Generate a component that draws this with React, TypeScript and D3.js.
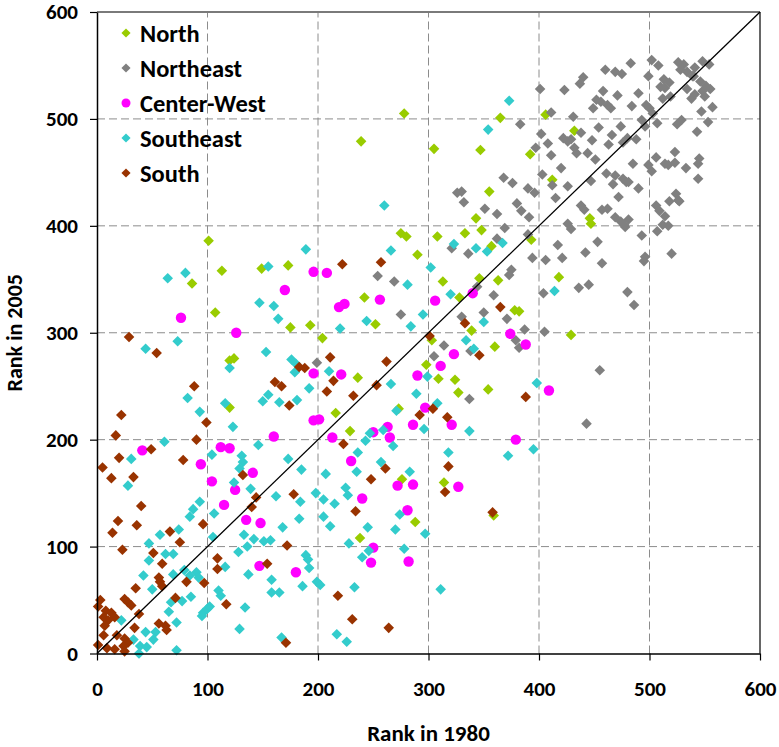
import React, { useEffect, useRef } from "react";
import * as d3 from "d3";

type Pt = [number, number];

// values (rank 1980, rank 2005)
const north: Pt[] = [
  [278, 505], [365, 501], [239, 479], [305, 472], [347, 471], [392, 467], [355, 432], [343, 407],
  [406, 504], [432, 489], [412, 443], [446, 407], [447, 402],
  [101, 386], [86, 346], [113, 358], [149, 360], [173, 363], [107, 319], [175, 305], [193, 307],
  [120, 274], [124, 276], [120, 230], [204, 295],
  [275, 393], [280, 390], [308, 390], [333, 393], [348, 396], [357, 381], [393, 387], [290, 373],
  [313, 348], [346, 351], [363, 349], [328, 333], [242, 333], [252, 308], [339, 302], [378, 321],
  [382, 320], [303, 293], [360, 287], [236, 258], [298, 270], [309, 257], [324, 256], [327, 244],
  [354, 247], [273, 229], [216, 225], [229, 208],
  [418, 352], [429, 298],
  [276, 163], [314, 160], [359, 129], [288, 123], [238, 108],
];

const northeast: Pt[] = [
  [383, 495], [397, 473], [368, 445], [376, 440], [326, 431], [330, 432], [332, 422], [390, 435],
  [396, 431], [351, 416], [362, 411], [380, 421], [384, 414], [391, 408],
  [483, 552], [502, 555], [508, 550], [526, 553], [531, 551], [528, 546], [534, 544], [540, 540],
  [548, 554], [554, 551], [541, 548], [539, 540], [460, 546], [469, 544], [475, 542], [440, 539],
  [437, 533], [401, 528], [423, 527], [499, 540], [513, 537], [518, 534], [510, 530], [514, 529],
  [546, 535], [551, 531], [548, 526], [555, 528], [534, 528], [541, 523], [538, 519], [458, 526],
  [471, 522], [490, 524], [452, 518], [456, 516], [462, 513], [465, 510], [449, 510], [484, 512],
  [497, 513], [500, 510], [503, 505], [519, 521], [512, 519], [550, 521], [557, 511], [547, 507],
  [411, 506], [431, 502], [493, 499], [496, 493], [507, 496], [525, 495], [529, 499], [553, 497],
  [543, 488], [454, 492], [474, 493], [438, 487], [402, 486], [466, 485], [422, 482], [426, 479],
  [429, 481], [448, 480], [476, 478], [480, 482], [488, 481], [408, 477], [411, 466], [432, 473],
  [434, 468], [444, 468], [451, 462], [463, 476], [485, 458], [499, 457], [502, 451], [506, 464],
  [514, 458], [517, 457], [523, 469], [523, 459], [533, 454], [545, 463], [544, 458], [420, 454],
  [403, 448], [412, 438], [426, 437], [447, 442], [461, 449], [469, 447], [476, 444], [479, 441],
  [467, 439], [481, 441], [490, 435], [544, 444], [415, 426], [438, 419], [441, 415], [457, 415],
  [462, 416], [472, 427], [469, 408], [474, 404], [481, 406], [477, 401], [426, 402], [506, 419],
  [509, 414], [514, 409], [518, 423], [526, 424], [524, 430], [527, 423], [512, 401],
  [369, 398], [362, 388], [321, 379], [336, 374], [390, 392], [394, 370], [375, 359], [373, 354],
  [254, 353], [269, 348], [344, 343], [359, 335], [275, 317], [330, 315], [350, 319], [371, 313],
  [387, 303], [379, 293], [382, 286], [314, 288], [338, 283], [305, 278], [199, 272], [337, 238],
  [429, 397], [478, 399], [493, 391], [507, 395], [517, 400], [520, 374], [496, 371], [495, 367],
  [457, 365], [453, 385], [442, 375], [421, 370], [417, 382], [406, 368], [404, 337], [436, 342],
  [445, 345], [480, 338], [486, 326], [405, 301], [455, 265], [443, 215],
];

const centerWest: Pt[] = [
  [196, 357], [170, 340], [76, 314], [126, 300], [196, 262], [160, 203], [196, 218], [201, 219],
  [208, 356], [256, 331], [224, 327], [219, 324], [340, 337], [306, 330], [374, 299], [388, 289],
  [323, 280], [221, 261], [311, 269], [290, 260], [297, 230], [286, 214], [321, 214], [250, 207],
  [263, 212], [265, 202], [213, 202], [379, 200], [409, 246],
  [41, 190], [112, 193], [120, 192], [94, 177], [141, 169], [104, 161], [125, 153], [115, 139],
  [135, 125], [148, 122], [147, 82], [180, 76],
  [230, 180], [272, 157], [286, 158], [327, 156], [240, 145], [281, 134], [250, 99], [248, 85], [282, 86],
];

const southeast: Pt[] = [
  [373, 517], [354, 490], [260, 419],
  [64, 351], [80, 356], [155, 362], [189, 378], [147, 328], [160, 325], [164, 313], [44, 285],
  [73, 292], [120, 267], [153, 282], [176, 275], [180, 271], [179, 263], [155, 242], [150, 236],
  [165, 235], [181, 237], [192, 248], [82, 239], [93, 226], [116, 234], [123, 212],
  [367, 384], [323, 383], [343, 379], [353, 376], [266, 377], [302, 361], [281, 345], [320, 336],
  [244, 311], [284, 306], [295, 317], [220, 304], [350, 310], [334, 293], [341, 285], [210, 264],
  [299, 259], [266, 252], [398, 253], [289, 243], [308, 234], [271, 227], [247, 206], [259, 209],
  [296, 210], [337, 208], [414, 339],
  [61, 198], [31, 182], [28, 157], [146, 195], [104, 186], [131, 185], [132, 179], [129, 173],
  [124, 160], [139, 154], [173, 182], [185, 172], [162, 147], [184, 142], [198, 150], [93, 142],
  [87, 135], [106, 131], [84, 128], [183, 126], [168, 118], [57, 111], [74, 116], [105, 109],
  [133, 111], [142, 107], [151, 105], [157, 106], [47, 103], [136, 100], [128, 95], [62, 93],
  [69, 93], [47, 87], [116, 81], [189, 92], [191, 88], [192, 80], [199, 67], [186, 63],
  [137, 74], [158, 69], [158, 57], [165, 57], [42, 73], [69, 74], [50, 60], [79, 78],
  [84, 73], [90, 76], [92, 71], [110, 59], [112, 54], [134, 43], [129, 23], [167, 15],
  [22, 31], [33, 13], [39, 7], [38, 0], [45, 6], [44, 20], [53, 20], [51, 13],
  [72, 29], [65, 39], [67, 48], [77, 49], [85, 53], [96, 38], [100, 42], [102, 44], [95, 35], [72, 3],
  [395, 191], [243, 199], [268, 194], [236, 188], [257, 179], [283, 170], [235, 170], [207, 168],
  [225, 155], [227, 148], [205, 144], [215, 140], [318, 188], [372, 185], [205, 128], [211, 119],
  [274, 130], [270, 116], [245, 118], [228, 103], [297, 112], [246, 96], [240, 90], [278, 98],
  [202, 64], [233, 62], [217, 18], [226, 11], [311, 60],
];

const south: Pt[] = [
  [29, 296], [54, 281], [183, 268], [188, 267], [161, 254], [167, 250], [174, 232], [88, 250],
  [99, 216], [22, 223], [17, 204], [90, 200],
  [222, 364], [257, 366], [365, 324], [333, 309], [301, 297], [346, 279], [211, 277], [262, 273],
  [214, 255], [253, 251], [208, 245], [232, 241], [388, 240], [304, 229], [292, 223], [317, 221],
  [49, 191], [20, 183], [78, 181], [5, 174], [13, 164], [33, 165], [132, 167], [40, 138],
  [144, 146], [140, 137], [178, 149], [19, 124], [36, 120], [96, 121], [14, 113], [66, 114],
  [75, 104], [172, 101], [23, 97], [51, 94], [109, 89], [109, 79], [59, 84], [154, 84],
  [56, 71], [57, 67], [59, 63], [81, 67], [97, 66], [35, 61], [117, 46], [171, 10],
  [3, 50], [1, 44], [8, 40], [13, 38], [16, 34], [6, 34], [10, 31], [7, 26],
  [25, 51], [28, 48], [31, 45], [38, 37], [34, 24], [6, 17], [18, 17], [25, 14],
  [28, 10], [24, 7], [1, 8], [9, 5], [16, 4], [25, 2], [56, 28], [62, 26], [63, 22], [71, 52],
  [223, 196], [261, 173], [248, 163], [234, 133], [318, 175], [315, 151], [358, 132], [218, 54],
  [231, 32], [264, 24],
];

const seriesNames = ["North", "Northeast", "Center-West", "Southeast", "South"];
const seriesColors = ["#99CC00", "#808080", "#FF00FF", "#33CCCC", "#993300"];
const seriesShapes = ["diamond", "diamond", "circle", "diamond", "diamond"];
const seriesData = [north, northeast, centerWest, southeast, south];

const xTicks = [0, 100, 200, 300, 400, 500, 600];
const yTicks = [0, 100, 200, 300, 400, 500, 600];

const FONT = "Carlito, Calibri, Lato, 'Open Sans', sans-serif";

export default function App() {
  const ref = useRef<SVGSVGElement>(null);

  useEffect(() => {
    const svg = d3.select(ref.current);
    svg.selectAll("*").remove();

    const width = 779, height = 747;
    const margin = { top: 12, right: 19, bottom: 93.5, left: 97 };

    const x = d3.scaleLinear().domain([0, 600]).range([margin.left, width - margin.right]);
    const y = d3.scaleLinear().domain([0, 600]).range([height - margin.bottom, margin.top]);

    svg.append("rect").attr("width", width).attr("height", height).attr("fill", "#fff");

    // dashed grid
    const grid = svg.append("g");
    grid.selectAll("line.vx").data(xTicks.slice(1, -1)).enter().append("line")
      .attr("x1", d => x(d)).attr("x2", d => x(d))
      .attr("y1", y(0)).attr("y2", y(600))
      .attr("stroke", "#8c8c8c").attr("stroke-width", 1).attr("stroke-dasharray", "8,4");
    grid.selectAll("line.hy").data(yTicks.slice(1, -1)).enter().append("line")
      .attr("x1", x(0)).attr("x2", x(600))
      .attr("y1", d => y(d)).attr("y2", d => y(d))
      .attr("stroke", "#8c8c8c").attr("stroke-width", 1).attr("stroke-dasharray", "8,4");

    // frame top / right
    svg.append("line").attr("x1", x(0)).attr("x2", x(600)).attr("y1", y(600)).attr("y2", y(600))
      .attr("stroke", "#7a7a7a").attr("stroke-width", 2);
    svg.append("line").attr("x1", x(600)).attr("x2", x(600)).attr("y1", y(600)).attr("y2", y(0))
      .attr("stroke", "#333").attr("stroke-width", 1.5);

    // points
    const diamond = d3.symbol().type(d3.symbolSquare).size(56);
    seriesData.forEach((pts, i) => {
      const g = svg.append("g");
      if (seriesShapes[i] === "circle") {
        g.selectAll("circle").data(pts).enter().append("circle")
          .attr("cx", d => x(d[0])).attr("cy", d => y(d[1])).attr("r", 5.2)
          .attr("fill", seriesColors[i]);
      } else {
        g.selectAll("path").data(pts).enter().append("path")
          .attr("d", diamond()!)
          .attr("transform", d => `translate(${x(d[0])},${y(d[1])}) rotate(45)`)
          .attr("fill", seriesColors[i]);
      }
    });

    // diagonal
    svg.append("line").attr("x1", x(0)).attr("y1", y(0)).attr("x2", x(600)).attr("y2", y(600))
      .attr("stroke", "#000").attr("stroke-width", 1.3);

    // axes
    const xAxis = svg.append("g").attr("transform", `translate(0,${y(0)})`)
      .call(d3.axisBottom(x).tickValues(xTicks).tickSize(7).tickPadding(21).tickSizeOuter(0));
    const yAxis = svg.append("g").attr("transform", `translate(${x(0)},0)`)
      .call(d3.axisLeft(y).tickValues(yTicks).tickSize(7).tickPadding(12).tickSizeOuter(0));
    [xAxis, yAxis].forEach(a => {
      a.select(".domain").attr("stroke", "#000").attr("stroke-width", 1.5);
      a.selectAll(".tick line").attr("stroke", "#000").attr("stroke-width", 1.2);
      a.selectAll("text").attr("font-family", FONT).attr("font-weight", "bold")
        .attr("font-size", 21).attr("fill", "#000");
    });

    // axis titles
    svg.append("text").attr("x", x(300)).attr("y", 741).attr("text-anchor", "middle")
      .attr("font-family", FONT).attr("font-weight", "bold").attr("font-size", 23)
      .text("Rank in 1980");
    svg.append("text").attr("transform", `translate(22,${y(300)}) rotate(-90)`)
      .attr("text-anchor", "middle")
      .attr("font-family", FONT).attr("font-weight", "bold").attr("font-size", 22)
      .text("Rank in 2005");

    // legend
    const legend = svg.append("g");
    seriesNames.forEach((name, i) => {
      const ly = 33 + i * 35;
      if (seriesShapes[i] === "circle") {
        legend.append("circle").attr("cx", 126).attr("cy", ly).attr("r", 4.5).attr("fill", seriesColors[i]);
      } else {
        legend.append("path").attr("d", d3.symbol().type(d3.symbolSquare).size(42)()!)
          .attr("transform", `translate(126,${ly}) rotate(45)`).attr("fill", seriesColors[i]);
      }
      legend.append("text").attr("x", 140).attr("y", ly).attr("dy", "0.36em")
        .attr("font-family", FONT).attr("font-weight", "bold").attr("font-size", 24.5)
        .text(name);
    });
  }, []);

  return (
    <svg ref={ref} width={779} height={747} style={{ position: "absolute", left: 0, top: 0 }} />
  );
}
